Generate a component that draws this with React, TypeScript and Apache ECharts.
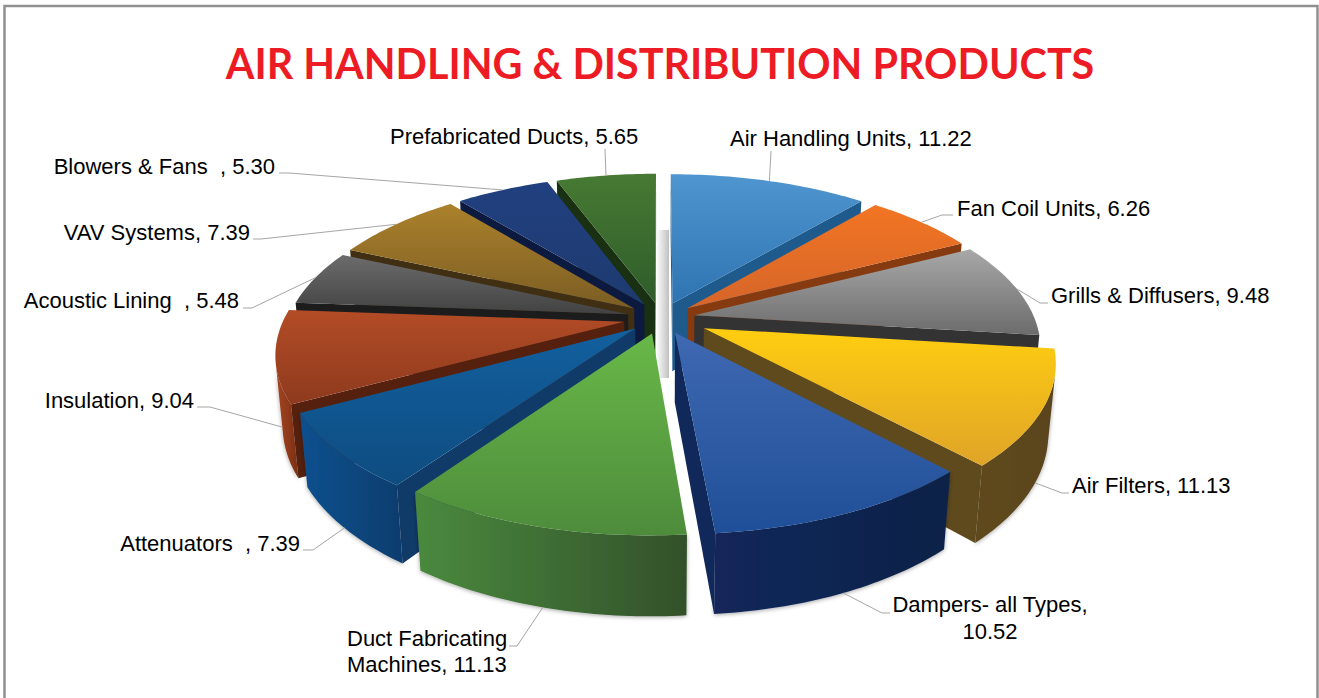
import React, { useEffect, useRef } from "react";
import * as echarts from "echarts";

const titleText = "AIR HANDLING & DISTRIBUTION PRODUCTS";
const categories = [
  "Air Handling Units",
  "Fan Coil Units",
  "Grills & Diffusers",
  "Air Filters",
  "Dampers- all Types",
  "Duct Fabricating Machines",
  "Attenuators  ",
  "Insulation",
  "Acoustic Lining  ",
  "VAV Systems",
  "Blowers & Fans  ",
  "Prefabricated Ducts",
];
const values = [11.22, 6.26, 9.48, 11.13, 10.52, 11.13, 7.39, 9.04, 5.48, 7.39, 5.3, 5.65];

// top-face gradient (light, dark), wall, outer-wall gradient (left, right)
const topLight = ["#4F96D0", "#F27522", "#A8A8A8", "#FFCE10", "#3F69B2", "#68B848", "#12609F", "#B34C26", "#6C6C6C", "#AB812B", "#21407F", "#477A33"];
const topDark = ["#2F74B2", "#D5652A", "#6C6C6C", "#DFA428", "#1F4F98", "#4E8C3C", "#0E4C80", "#8E3A1E", "#424242", "#7B5D24", "#1E3A70", "#2F5C2A"];
const sideColor = ["#1F5A8C", "#863A10", "#333333", "#5F4A1E", "#10285A", "#2F5A2A", "#103A68", "#55200E", "#1C1C1C", "#402F12", "#0D1A40", "#1A3012"];
const wallLeft = ["#1F5A8C", "#863A10", "#444444", "#5F4A1E", "#12285A", "#4A8A3E", "#10508E", "#A84522", "#333333", "#5A4318", "#0D1A40", "#1A3012"];
const wallRight = ["#1F5A8C", "#863A10", "#333333", "#5A441B", "#0E2248", "#33502A", "#0E3D6E", "#7A2F14", "#1C1C1C", "#402F12", "#0D1A40", "#1A3012"];

// how far each slice is pulled out of the pie
const explodes = [0.1, 0.1, 0.1, 0.14, 0.1, 0.1, 0.1, 0.11, 0.1, 0.1, 0.1, 0.1];

// label layout: text anchor, alignment, elbow of the leader line
const labelLayout = [
  { x: 730, y: 138, align: "left", from: [771, 151] },
  { x: 957, y: 208, align: "left", from: [953, 215], elbow: [942, 215] },
  { x: 1051, y: 295, align: "left", from: [1048, 303], elbow: [1040, 303] },
  { x: 1072, y: 485, align: "left", from: [1069, 493], elbow: [1062, 493] },
  { x: 990, y: 618, align: "center", lineHeight: 27, from: [890, 613], elbow: [882, 613] },
  { x: 347, y: 651, align: "left", lineHeight: 26, from: [509, 646], elbow: [517, 646] },
  { x: 300, y: 543, align: "right", from: [303, 550], elbow: [313, 550] },
  { x: 194, y: 400, align: "right", from: [197, 407], elbow: [210, 407] },
  { x: 239, y: 300, align: "right", from: [243, 308], elbow: [252, 308] },
  { x: 250, y: 232, align: "right", from: [253, 239], elbow: [261, 239] },
  { x: 275, y: 166, align: "right", from: [279, 173], elbow: [289, 173] },
  { x: 390, y: 136, align: "left", from: [605, 149] },
];
const labelBreaks: Record<number, string> = {
  4: "Dampers- all Types,\n10.52",
  5: "Duct Fabricating\nMachines, 11.13",
};

// projection of the exploded pie
const CX = 661, CY = 318, A = 340, B = 158, D = 5.4, KZ = 0.1, H = 70;
const total = values.reduce((a, b) => a + b, 0);
const rad = Math.PI / 180;
const angles = (() => {
  let acc = 0;
  return values.map((v) => {
    const s = (acc / total) * 360;
    acc += v;
    return [s, (acc / total) * 360];
  });
})();
const mids = angles.map(([s, e]) => (s + e) / 2);

function project(i: number, r: number, deg: number, z: number): number[] {
  const m = mids[i] * rad;
  const t = deg * rad;
  const u = r * Math.sin(t) + explodes[i] * Math.sin(m);
  const v = r * Math.cos(t) + explodes[i] * Math.cos(m);
  const f = D / (D + v + KZ * z);
  return [CX + A * u * f, CY - B * v * f + H * z * f];
}
function area(p: number[][]): number {
  let s = 0;
  for (let i = 0; i < p.length; i++) {
    const a = p[i], b = p[(i + 1) % p.length];
    s += a[0] * b[1] - b[0] * a[1];
  }
  return s;
}
const vGrad = (a: string, b: string) =>
  new echarts.graphic.LinearGradient(0, 0, 0, 1, [
    { offset: 0, color: a },
    { offset: 1, color: b },
  ]);
const hGrad = (a: string, b: string) =>
  new echarts.graphic.LinearGradient(0, 0, 1, 0, [
    { offset: 0, color: a },
    { offset: 1, color: b },
  ]);

function renderSlice(_: any, api: any) {
  const i = api.value(0) as number;
  const [s, e] = angles[i];
  const n = Math.max(8, Math.ceil(e - s));
  const rim: number[] = [];
  for (let k = 0; k <= n; k++) rim.push(s + ((e - s) * k) / n);
  const children: any[] = [];
  const shadow = { shadowColor: "rgba(0,0,0,0.35)", shadowBlur: 4, shadowOffsetY: 1 };

  // outer wall: the runs of the rim that face the viewer
  let run: number[] = [];
  const flush = () => {
    if (run.length > 1) {
      const top = run.map((d) => project(i, 1, d, 0));
      const bot = run.map((d) => project(i, 1, d, 1)).reverse();
      children.push({
        type: "polygon",
        shape: { points: top.concat(bot) },
        style: { fill: hGrad(wallLeft[i], wallRight[i]), ...shadow },
      });
    }
    run = [];
  };
  for (let k = 0; k < n; k++) {
    const a = rim[k], b = rim[k + 1];
    const q = [project(i, 1, a, 0), project(i, 1, b, 0), project(i, 1, b, 1), project(i, 1, a, 1)];
    if (area(q) < 0) {
      if (!run.length) run.push(a);
      run.push(b);
    } else flush();
  }
  flush();

  // radial wall at the start and the end angle
  const quad = (a0: number[], a1: number[], b1: number[], b0: number[], fill: any) => {
    const pts = [a0, a1, b1, b0];
    if (area(pts) < 0) children.push({ type: "polygon", shape: { points: pts }, style: { fill } });
  };
  quad(project(i, 0, s, 0), project(i, 1, s, 0), project(i, 1, s, 1), project(i, 0, s, 1), sideColor[i]);
  quad(project(i, 1, e, 0), project(i, 0, e, 0), project(i, 0, e, 1), project(i, 1, e, 1), sideColor[i]);

  // top face
  const topPts = [project(i, 0, s, 0)].concat(rim.map((d) => project(i, 1, d, 0)));
  children.push({ type: "polygon", shape: { points: topPts }, style: { fill: vGrad(topLight[i], topDark[i]) } });
  return { type: "group", children };
}

function leaderPoints(i: number): number[][] {
  const l: any = labelLayout[i];
  const c = Math.cos(mids[i] * rad);
  const anchor = project(i, 1, mids[i], c < 0 ? 1 : 0);
  return l.elbow ? [l.from, l.elbow, anchor] : [l.from, anchor];
}

export default function App() {
  const ref = useRef<HTMLDivElement>(null);
  useEffect(() => {
    const chart = echarts.init(ref.current!, undefined, { renderer: "svg" });
    const order = values
      .map((_, i) => i)
      .sort((a, b) => Math.cos(mids[b] * rad) - Math.cos(mids[a] * rad));
    const graphics: any[] = [
      {
        type: "rect",
        shape: { x: 4.5, y: 6, width: 1313, height: 720 },
        style: { fill: "#fff", stroke: "#909090", lineWidth: 2.5 },
        z: 0,
      },
      {
        type: "rect",
        shape: { x: 657, y: 230, width: 12, height: 148 },
        style: { fill: new echarts.graphic.LinearGradient(0, 0, 1, 0, [
          { offset: 0, color: "#FAFAFA" },
          { offset: 0.6, color: "#D8D8D8" },
          { offset: 1, color: "#C0C0C0" },
        ]) },
        z: 0,
      },
      {
        type: "text",
        x: 660,
        y: 63,
        style: {
          text: titleText,
          fill: "#ED1C24",
          font: "bold 41.3px Lato",
          align: "center",
          verticalAlign: "middle",
        },
        z: 5,
      },
    ];
    categories.forEach((name, i) => {
      const l: any = labelLayout[i];
      graphics.push({
        type: "polyline",
        shape: { points: leaderPoints(i) },
        style: { stroke: "#A6A6A6", lineWidth: 1, fill: "none" },
        z: 5,
      });
      const str = labelBreaks[i] ?? `${name}, ${values[i].toFixed(2)}`;
      graphics.push({
        type: "text",
        x: l.x,
        y: l.y,
        style: {
          text: str,
          fill: "#000",
          font: "22px 'Liberation Sans'",
          align: l.align,
          verticalAlign: "middle",
          lineHeight: l.lineHeight ?? 24,
        },
        z: 5,
      });
    });
    chart.setOption({
      animation: false,
      graphic: graphics,
      series: [
        {
          type: "custom",
          coordinateSystem: "none",
          renderItem: renderSlice,
          z: 3,
          silent: true,
          data: order.map((i) => ({ name: categories[i], value: [i, values[i]] })),
        },
      ],
    });
    return () => chart.dispose();
  }, []);
  return <div ref={ref} style={{ position: "fixed", left: 0, top: 0, width: 1319, height: 698, background: "#fff" }} />;
}
